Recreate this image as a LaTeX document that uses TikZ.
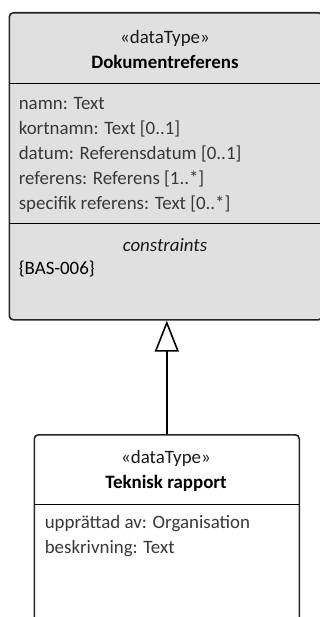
\documentclass[tikz,border=0pt]{standalone}
\usepackage{fontspec}
\setmainfont{Carlito}
\usetikzlibrary{arrows.meta}

\begin{document}
\begin{tikzpicture}[x=1pt,y=-1pt,line width=1.6pt,font=\fontsize{18.9}{25}\selectfont]
    \tikzstyle{classbox}=[draw=black!85,rounded corners=4pt,anchor=north west,inner sep=0pt]
    \tikzstyle{stereo}=[inner sep=0pt,text=black!90]
    \tikzstyle{title}=[inner sep=0pt,font=\fontsize{18.9}{25}\selectfont\bfseries]
    \tikzstyle{attr}=[inner sep=0pt,anchor=west,text=black!78]
    \useasboundingbox (0,0) rectangle (320,617);

    % Draw the two class boxes
    \node[classbox,fill=black!12,minimum width=313pt,minimum height=307pt] (Dok) at (8.5,12) {};
    \node[classbox,fill=white,minimum width=265pt,minimum height=260pt] (Tek) at (33.5,434) {};

    % Compartment lines
    \coordinate (D-1) at (0,83.5);
    \coordinate (D-2) at (0,223.5);
    \coordinate (T-1) at (0,504.5);
    \draw[line width=1.3pt] (Dok.west |- D-1) -- (Dok.east |- D-1);
    \draw[line width=1.3pt] (Dok.west |- D-2) -- (Dok.east |- D-2);
    \draw[line width=1.3pt] (Tek.west |- T-1) -- (Tek.east |- T-1);

    % Dokumentreferens
    \node[stereo] (Dok-st) at (165,38) {«dataType»};
    \node[title] (Dok-n) at (165,62) {Dokumentreferens};
    \node[attr] (Dok-a1) at (18,104) {namn: Text};
    \node[attr] (Dok-a2) at (18,129) {kortnamn: Text [0..1]};
    \node[attr] (Dok-a3) at (18,154) {datum: Referensdatum [0..1]};
    \node[attr] (Dok-a4) at (18,179) {referens: Referens [1..*]};
    \node[attr] (Dok-a5) at (18,204) {specifik referens: Text [0..*]};
    \node[stereo,font=\fontsize{18.9}{25}\selectfont\itshape] (Dok-c) at (165,245) {constraints};
    \node[attr,text=black] (Dok-c1) at (18,269) {\{BAS-006\}};

    % Teknisk rapport
    \node[stereo] (Tek-st) at (166,458) {«dataType»};
    \node[title] (Tek-n) at (166,483) {Teknisk rapport};
    \node[attr] (Tek-a1) at (44,524) {upprättad av: Organisation};
    \node[attr] (Tek-a2) at (44,549) {beskrivning: Text};

    % Generalization
    \draw[-{Triangle[open,length=31pt,width=24pt]}] (Tek.north) -- (Tek.north |- Dok.south);
\end{tikzpicture}
\end{document}
